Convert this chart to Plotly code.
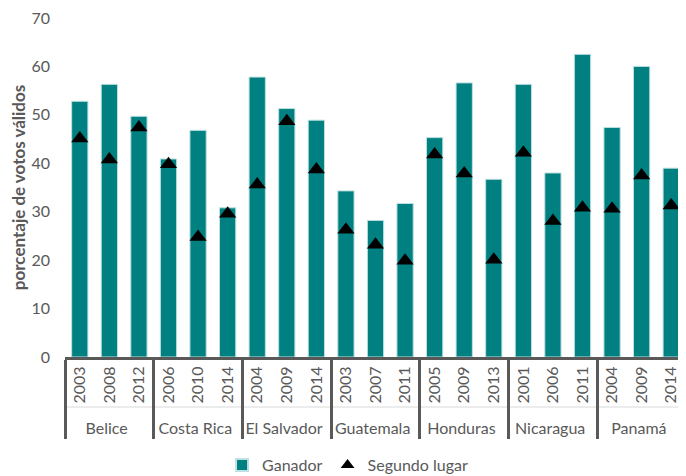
import plotly.graph_objects as go

countries = ["Belice"]*3 + ["Costa Rica"]*3 + ["El Salvador"]*3 + ["Guatemala"]*3 + ["Honduras"]*3 + ["Nicaragua"]*3 + ["Panamá"]*3
years = ["2003", "2008", "2012", "2006", "2010", "2014", "2004", "2009", "2014",
         "2003", "2007", "2011", "2005", "2009", "2013", "2001", "2006", "2011",
         "2004", "2009", "2014"]
ganador = [52.8, 56.3, 49.7, 40.9, 46.8, 30.8, 57.8, 51.3, 48.9,
           34.3, 28.2, 31.7, 45.3, 56.6, 36.7, 56.3, 38.0, 62.5,
           47.4, 60.0, 39.0]
segundo = [45.1, 40.8, 47.4, 39.8, 24.8, 29.6, 35.6, 48.7, 38.7,
           26.3, 23.2, 19.9, 41.8, 37.9, 20.1, 42.2, 28.1, 30.8,
           30.6, 37.5, 31.3]

grey = "#595959"
font = "Lato"

# plotly orders the inner level of a multicategory axis by first appearance
# across all countries; a zero-width suffix keeps each year label distinct so
# the original per-country order is kept.
seen = {}
year_keys = []
for y in years:
    k = seen.get(y, 0)
    seen[y] = k + 1
    year_keys.append(y + "\u200b" * k)

fig = go.Figure()
fig.add_trace(go.Bar(
    x=[countries, year_keys], y=ganador, name="Ganador",
    marker=dict(color="#008080", line=dict(color="#bfe0e0", width=1)),
))
fig.add_trace(go.Scatter(
    x=[countries, year_keys], y=segundo, name="Segundo lugar", mode="markers",
    marker=dict(symbol="triangle-up", size=15, color="black"),
))

fig.update_layout(
    width=678, height=468,
    margin=dict(l=57, r=0, t=10, b=119, autoexpand=False),
    paper_bgcolor="white", plot_bgcolor="white",
    bargap=0.45,
    font=dict(family=font, size=16, color=grey),
    showlegend=True,
    legend=dict(orientation="h", x=0.455, xanchor="center", y=-0.319, yanchor="middle",
                font=dict(size=16, color=grey), itemwidth=30, itemsizing="constant"),
    shapes=[dict(type="line", xref="paper", yref="paper", x0=0, x1=1,
                 y0=-0.1475, y1=-0.1475, line=dict(color="#d9d9d9", width=1), layer="below")],
)
fig.update_xaxes(
    type="multicategory", automargin=False, range=[-0.5, len(years) - 0.5],
    showline=True, linecolor=grey, linewidth=3,
    showdividers=True, dividercolor=grey, dividerwidth=3,
    tickangle=-90, tickfont=dict(size=16, color=grey),
    ticks="", showgrid=False,
)
fig.update_yaxes(
    range=[0, 70], dtick=10, showgrid=False, zeroline=False, showline=False,
    automargin=False, ticklabelstandoff=14, ticklabeloverflow="allow",
    tickfont=dict(size=16, color=grey),
    title=dict(text="<b>porcentaje de votos válidos</b>", font=dict(size=17, color=grey), standoff=6),
)

fig.write_html("out.html")
